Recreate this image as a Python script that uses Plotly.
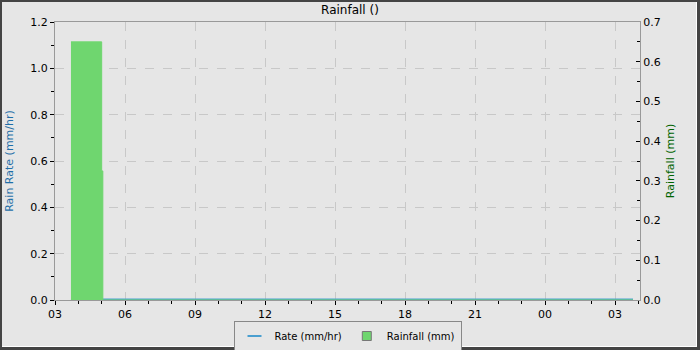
import plotly.graph_objects as go

# ---- data ----
rain_times = ["2024-01-01 03:41", "2024-01-01 05:00", "2024-01-01 05:03", "2024-01-02 03:46"]
rain_mm = [0.65, 0.325, 0.0, 0.0]
rate_times = ["2024-01-01 03:41", "2024-01-01 12:00", "2024-01-02 03:46"]
rate_mmhr = [0.0, 0.0, 0.0]

W, H = 700, 350
L, R, T, B = 55, 60, 22, 50
PW, PH = W - L - R, H - T - B
RATE_C = "#4a9fd0"
RAIN_C = "#6fd66f"

def px(x):
    return (x - L) / PW

def py(y):
    return (H - B - y) / PH

fig = go.Figure()
fig.add_trace(go.Scatter(
    x=rain_times, y=rain_mm, name="Rainfall (mm)", yaxis="y2", showlegend=False,
    mode="lines", line=dict(shape="hv", color=RAIN_C, width=1),
    fill="tozeroy", fillcolor=RAIN_C,
))
fig.add_trace(go.Scatter(
    x=rate_times, y=rate_mmhr, name="Rate (mm/hr)", yaxis="y", showlegend=False,
    mode="lines", line=dict(color=RATE_C, width=3),
))
# legend entries
fig.add_trace(go.Scatter(
    x=[None], y=[None], name="Rate (mm/hr)", mode="markers",
    marker=dict(symbol="line-ew-open", size=10, color=RATE_C, line=dict(color=RATE_C, width=2)),
))
fig.add_trace(go.Scatter(
    x=[None], y=[None], name="Rainfall (mm)", mode="markers",
    marker=dict(symbol="square", size=9, color=RAIN_C, line=dict(color="#777", width=1)),
))

grid = dict(showgrid=True, gridcolor="#c8c8c8", griddash="dash", gridwidth=1)
fig.update_layout(
    width=W, height=H,
    margin=dict(l=L, r=R, t=T, b=B, autoexpand=False),
    paper_bgcolor="#e6e6e6", plot_bgcolor="#e6e6e6",
    font=dict(family="DejaVu Sans", size=11, color="#000"),
    title=dict(text="Rainfall ()", x=0.5, xanchor="center", y=1 - 10 / H, yanchor="middle",
               font=dict(size=12)),
    showlegend=True,
    legend=dict(orientation="h", x=0.5, xanchor="center", y=py(336), yanchor="middle",
                bgcolor="#e6e6e6", bordercolor="#888", borderwidth=1,
                font=dict(size=10), itemwidth=30),
    xaxis=dict(
        type="date", range=["2024-01-01 03:00", "2024-01-02 04:04"],
        dtick=3 * 3600000, tick0="2024-01-01 03:00", tickformat="%H",
        ticks="outside", ticklen=4, tickcolor="#000", layer="below traces",
        minor=dict(dtick=3600000, ticks="outside", ticklen=3, tickcolor="#000", showgrid=False),
        showline=True, linecolor="#999", mirror=True, zeroline=False, **grid,
    ),
    yaxis=dict(
        range=[0, 1.2], dtick=0.2, tickformat=".1f", layer="below traces",
        ticks="outside", ticklen=4, tickcolor="#000",
        minor=dict(dtick=0.1, ticks="outside", ticklen=3, tickcolor="#000", showgrid=False),
        showline=True, linecolor="#999", zeroline=False,
        title=dict(text="Rain Rate (mm/hr)", font=dict(color="#1f6fa8", size=11), standoff=14),
        **grid,
    ),
    yaxis2=dict(
        range=[0, 0.7], dtick=0.1, tickformat=".1f", overlaying="y", side="right",
        ticks="inside", ticklen=4, tickcolor="#000",
        minor=dict(dtick=0.05, ticks="inside", ticklen=3, tickcolor="#000"),
        showline=True, linecolor="#999", showgrid=False, zeroline=False,
        title=dict(text="Rainfall (mm)", font=dict(color="#006400", size=11), standoff=6),
    ),
)

shapes = []
def rect(x0, y0, x1, y1, color):
    shapes.append(dict(type="rect", xref="paper", yref="paper",
                       x0=px(x0), x1=px(x1), y0=py(y1), y1=py(y0),
                       fillcolor=color, line=dict(width=0), layer="above"))
rect(0, 0, 2, 350, "#444444")
rect(0, 0, 700, 2, "#444444")
rect(697, 0, 700, 350, "#444444")
rect(0, 347, 700, 350, "#444444")
rect(696, 2, 697, 347, "#ffffff")
rect(2, 346, 697, 347, "#ffffff")
fig.update_layout(shapes=shapes)

fig.write_html("out.html")
